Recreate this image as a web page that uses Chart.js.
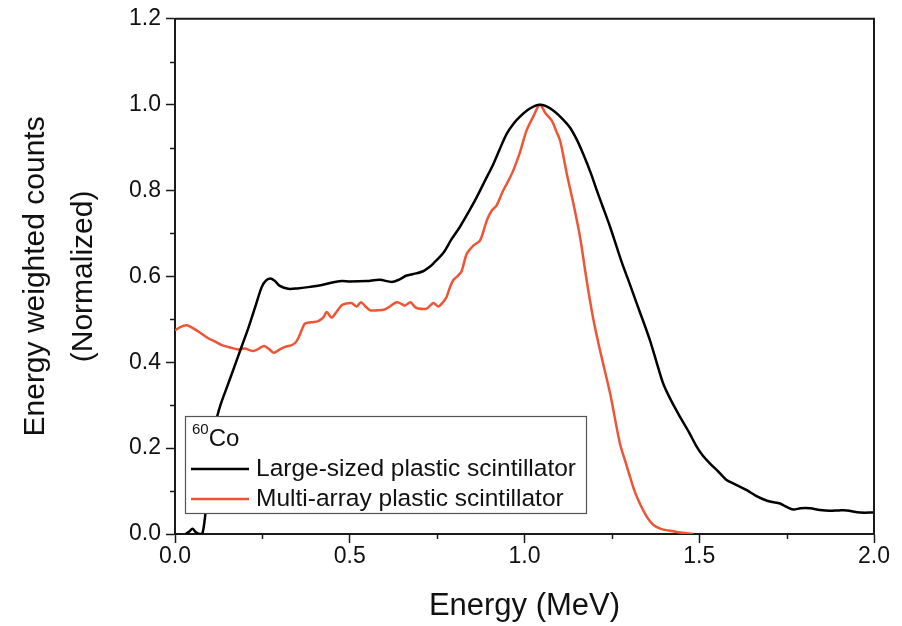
<!DOCTYPE html>
<html>
<head>
<meta charset="utf-8">
<script src="https://cdn.jsdelivr.net/npm/chart.js@4/dist/chart.umd.min.js"></script>
<style>
  html, body { margin: 0; padding: 0; background: #fff; }
  #wrap { width: 902px; height: 626px; position: relative; }
</style>
</head>
<body>
<div id="wrap"><canvas id="c" width="902" height="626"></canvas></div>
<script>
// ---- Data ----
const largeEnergy = [0.03,0.04,0.05,0.06,0.07,0.078,0.086,0.095,0.105,0.117,0.13,0.15,0.17,0.19,0.21,0.23,0.248,0.26,0.272,0.285,0.30,0.324,0.35,0.381,0.42,0.45,0.477,0.50,0.548,0.586,0.62,0.64,0.663,0.69,0.71,0.725,0.739,0.768,0.79,0.815,0.84,0.863,0.887,0.911,0.93,0.949,0.968,0.987,1.01,1.03,1.044,1.06,1.083,1.105,1.13,1.15,1.168,1.19,1.207,1.225,1.245,1.264,1.283,1.30,1.321,1.34,1.359,1.378,1.397,1.42,1.445,1.47,1.493,1.51,1.531,1.555,1.578,1.60,1.636,1.66,1.683,1.705,1.731,1.75,1.769,1.79,1.817,1.845,1.874,1.9,1.922,1.96,2.0];
const largeCounts = [0.0,0.005,0.012,0.004,0.0,0.0,0.04,0.12,0.19,0.26,0.30,0.345,0.39,0.435,0.48,0.53,0.575,0.59,0.595,0.59,0.578,0.571,0.572,0.575,0.58,0.586,0.589,0.588,0.589,0.592,0.587,0.592,0.602,0.607,0.612,0.62,0.63,0.655,0.685,0.715,0.75,0.784,0.823,0.862,0.898,0.932,0.955,0.972,0.988,0.997,1.0,0.997,0.986,0.97,0.947,0.918,0.885,0.84,0.80,0.76,0.715,0.668,0.622,0.585,0.537,0.495,0.451,0.40,0.35,0.31,0.273,0.238,0.203,0.183,0.164,0.145,0.126,0.117,0.102,0.09,0.081,0.075,0.071,0.063,0.057,0.060,0.060,0.056,0.054,0.055,0.055,0.050,0.050];

const multiEnergy = [0,0.015,0.033,0.05,0.07,0.095,0.115,0.134,0.155,0.18,0.2,0.224,0.24,0.255,0.27,0.283,0.30,0.315,0.334,0.345,0.355,0.365,0.372,0.39,0.41,0.425,0.434,0.448,0.46,0.477,0.49,0.505,0.52,0.532,0.545,0.558,0.58,0.6,0.615,0.634,0.65,0.658,0.674,0.685,0.696,0.72,0.739,0.753,0.765,0.777,0.786,0.796,0.81,0.82,0.835,0.854,0.873,0.892,0.906,0.92,0.939,0.954,0.968,0.987,1.006,1.025,1.044,1.06,1.078,1.09,1.102,1.121,1.14,1.159,1.178,1.197,1.216,1.245,1.273,1.29,1.302,1.315,1.33,1.35,1.369,1.39,1.407,1.44,1.483];
const multiCounts = [0.474,0.482,0.486,0.48,0.47,0.456,0.448,0.44,0.435,0.43,0.432,0.426,0.432,0.438,0.43,0.422,0.43,0.436,0.44,0.446,0.46,0.48,0.49,0.493,0.496,0.505,0.517,0.504,0.515,0.533,0.537,0.538,0.530,0.540,0.53,0.521,0.521,0.523,0.53,0.540,0.535,0.532,0.540,0.53,0.525,0.525,0.538,0.530,0.538,0.552,0.573,0.591,0.602,0.612,0.653,0.672,0.684,0.730,0.753,0.765,0.800,0.823,0.847,0.889,0.940,0.972,1.0,0.98,0.963,0.94,0.916,0.839,0.769,0.691,0.59,0.50,0.428,0.327,0.211,0.165,0.133,0.10,0.071,0.04,0.021,0.012,0.009,0.004,0.0];

const seriesLabels = ['Large-sized plastic scintillator', 'Multi-array plastic scintillator'];
const legendTitleSup = '60';
const legendTitleMain = 'Co';
const xTitle = 'Energy (MeV)';
const yTitle = ['Energy weighted counts', '(Normalized)'];

const FONT = "'Liberation Sans', Arial, Helvetica, sans-serif";

function toXY(xs, ys) { return xs.map((x, i) => ({ x: x, y: ys[i] })); }

// Minor ticks + top/right frame
const framePlugin = {
  id: 'frame',
  afterDraw(chart) {
    const { ctx, chartArea: a, scales } = chart;
    ctx.save();
    ctx.strokeStyle = '#1a1a1a';
    ctx.lineWidth = 2;
    ctx.beginPath();
    ctx.moveTo(a.left, a.top); ctx.lineTo(a.right, a.top); ctx.lineTo(a.right, a.bottom);
    ctx.stroke();
    // minor ticks
    ctx.lineWidth = 1.5;
    const xs = scales.x, ys = scales.y;
    for (let v = 0.25; v < 2; v += 0.5) {
      const px = Math.round(xs.getPixelForValue(v)) + 0.5;
      ctx.beginPath(); ctx.moveTo(px, a.bottom); ctx.lineTo(px, a.bottom + 5); ctx.stroke();
    }
    for (let v = 0.1; v < 1.2; v += 0.2) {
      const py = Math.round(ys.getPixelForValue(v)) + 0.5;
      ctx.beginPath(); ctx.moveTo(a.left, py); ctx.lineTo(a.left - 5, py); ctx.stroke();
    }
    ctx.restore();
  }
};

// Legend box with superscript title
const boxLegend = {
  id: 'boxLegend',
  afterDatasetsDraw(chart, args, o) {
    const { ctx } = chart;
    ctx.save();
    ctx.fillStyle = '#fff';
    ctx.fillRect(o.x, o.y, o.w, o.h);
    ctx.strokeStyle = '#555';
    ctx.lineWidth = 1.2;
    ctx.strokeRect(o.x + 0.5, o.y + 0.5, o.w, o.h);
    ctx.fillStyle = '#111';
    ctx.textBaseline = 'alphabetic';
    ctx.textAlign = 'left';
    ctx.font = `15px ${FONT}`;
    ctx.fillText(legendTitleSup, o.x + 7, o.y + 18);
    const supW = ctx.measureText(legendTitleSup).width;
    ctx.font = `24px ${FONT}`;
    ctx.fillText(legendTitleMain, o.x + 7 + supW, o.y + 30);
    chart.data.datasets.forEach((ds, i) => {
      const ly = o.y + o.rowY[i];
      ctx.strokeStyle = ds.borderColor;
      ctx.lineWidth = 2.5;
      ctx.beginPath();
      ctx.moveTo(o.x + 6, ly); ctx.lineTo(o.x + 64, ly);
      ctx.stroke();
      ctx.fillStyle = '#111';
      ctx.font = `24.5px ${FONT}`;
      ctx.fillText(ds.label, o.x + 71, ly + 7);
    });
    ctx.restore();
  }
};

new Chart(document.getElementById('c'), {
  type: 'line',
  data: {
    datasets: [
      { label: seriesLabels[0], data: toXY(largeEnergy, largeCounts), borderColor: '#000000', borderWidth: 2.5, pointRadius: 0, tension: 0.3, fill: false },
      { label: seriesLabels[1], data: toXY(multiEnergy, multiCounts), borderColor: '#ef5535', borderWidth: 2.5, pointRadius: 0, tension: 0.3, fill: false }
    ]
  },
  options: {
    responsive: false,
    animation: false,
    devicePixelRatio: 1,
    layout: { padding: { left: 0, right: 28, top: 18, bottom: 0 } },
    plugins: {
      legend: { display: false },
      tooltip: { enabled: false },
      boxLegend: { x: 185, y: 416, w: 401, h: 97, rowY: [53, 83] }
    },
    scales: {
      x: {
        type: 'linear', min: 0, max: 2,
        afterFit(s) { s.height = 92; },
        ticks: { stepSize: 0.5, color: '#111', font: { family: FONT, size: 23 }, padding: 0, maxRotation: 0,
                 callback: v => v.toFixed(1) },
        grid: { display: true, drawOnChartArea: false, drawTicks: true, tickLength: 9, tickWidth: 1.5, tickColor: '#1a1a1a' },
        border: { display: true, color: '#1a1a1a', width: 2 },
        title: { display: true, text: xTitle, color: '#111', font: { family: FONT, size: 31 }, padding: { top: 0, bottom: 1 } }
      },
      y: {
        type: 'linear', min: 0, max: 1.2,
        afterFit(s) { s.width = 175; },
        ticks: { stepSize: 0.2, color: '#111', font: { family: FONT, size: 23 }, padding: 5,
                 callback: v => v.toFixed(1) },
        grid: { display: true, drawOnChartArea: false, drawTicks: true, tickLength: 9, tickWidth: 1.5, tickColor: '#1a1a1a' },
        border: { display: true, color: '#1a1a1a', width: 2 },
        title: { display: true, text: yTitle, color: '#111', font: { family: FONT, size: 30, lineHeight: 1.6 }, padding: { top: 12, bottom: 0 } }
      }
    }
  },
  plugins: [framePlugin, boxLegend]
});
</script>
</body>
</html>
